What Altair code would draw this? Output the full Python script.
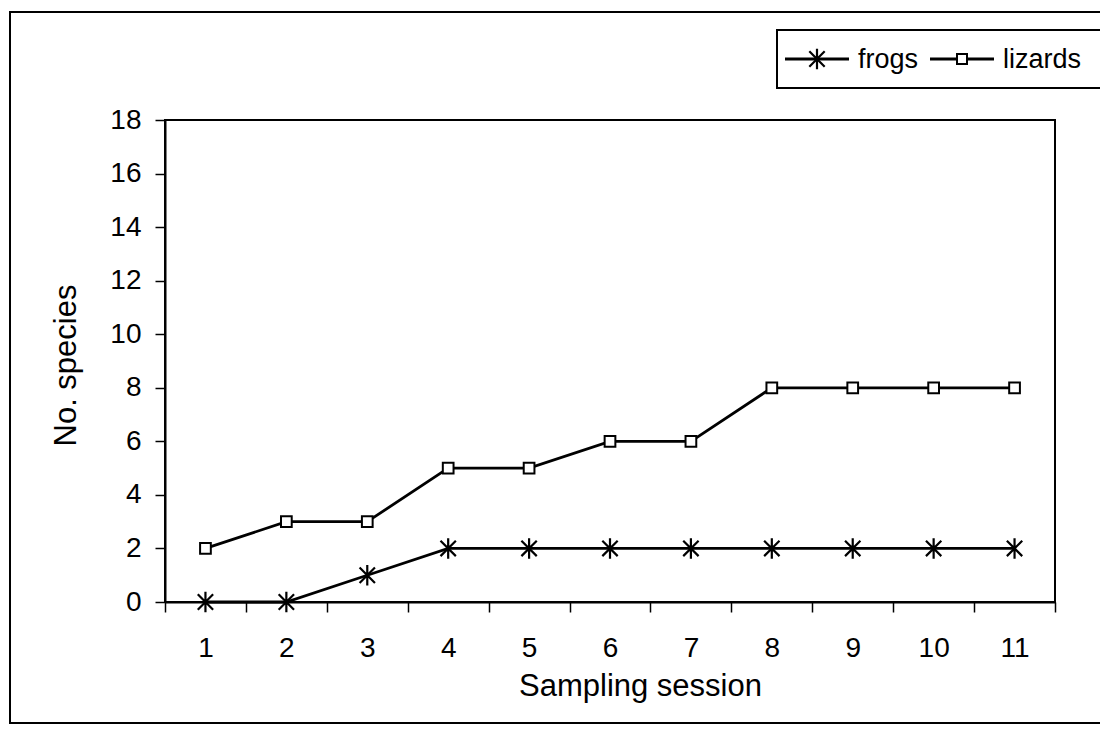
import altair as alt
import pandas as pd

sessions = [1, 2, 3, 4, 5, 6, 7, 8, 9, 10, 11]
frogs = [0, 0, 1, 2, 2, 2, 2, 2, 2, 2, 2]
lizards = [2, 3, 3, 5, 5, 6, 6, 8, 8, 8, 8]
series_names = ["frogs", "lizards"]
y_ticks = [0, 2, 4, 6, 8, 10, 12, 14, 16, 18]

FONT = "Liberation Sans"
W, H = 890, 482

df = pd.DataFrame({
    "session": sessions * 2,
    "species": frogs + lizards,
    "series": [series_names[0]] * len(sessions) + [series_names[1]] * len(sessions),
})

STAR = "M0,-1L0,1M-0.75,-0.75L0.75,0.75M-0.75,0.75L0.75,-0.75"

x_enc = alt.X("session:O", scale=alt.Scale(type="band", paddingInner=0, paddingOuter=0),
              axis=alt.Axis(title="Sampling session", labelAngle=0, tickBand="extent",
                            labelFontSize=28, labelFont=FONT, labelColor="black",
                            labelPadding=22, tickSize=10, tickColor="black", tickWidth=1.5,
                            domainColor="black", domainWidth=2,
                            titleFont=FONT, titleFontSize=31, titleFontWeight="normal",
                            titleColor="black", titleX=475, titleY=84, titleBaseline="middle"))
y_enc = alt.Y("species:Q", scale=alt.Scale(domain=[0, 18], nice=False),
              axis=alt.Axis(title="No. species", values=y_ticks, grid=False,
                            labelFontSize=28, labelFont=FONT, labelColor="black",
                            labelPadding=14, tickSize=10, tickColor="black", tickWidth=1.5,
                            domainColor="black", domainWidth=2,
                            titleFont=FONT, titleFontSize=31, titleFontWeight="normal",
                            titleColor="black", titleX=-99, titleY=245, titleAngle=-90,
                            titleAlign="center", titleBaseline="middle"))

one = pd.DataFrame({"k": [0]})

frame = alt.Chart(one).mark_rect(fill="white", fillOpacity=0, stroke="black", strokeWidth=2).encode(
    x=alt.value(-155), x2=alt.value(936), y=alt.value(-108), y2=alt.value(603))

lines = alt.Chart(df).mark_line(color="black", strokeWidth=2.8).encode(
    x=x_enc, y=y_enc, detail="series:N")

stars = alt.Chart(df).transform_filter(alt.datum.series == series_names[0]).mark_point(
    shape=STAR, size=420, stroke="black", strokeWidth=2.2, filled=False, opacity=1).encode(
    x=x_enc, y=y_enc)

squares = alt.Chart(df).transform_filter(alt.datum.series == series_names[1]).mark_point(
    shape="square", size=115, fill="white", stroke="black", strokeWidth=2, filled=True, opacity=1).encode(
    x=x_enc, y=y_enc)

# legend box (manual)
LX0, LX1, LY0, LY1 = 612, 936, -90, -32
LYC = (LY0 + LY1) / 2
legend_layers = [alt.Chart(one).mark_rect(fill="white", stroke="black", strokeWidth=2).encode(
    x=alt.value(LX0), x2=alt.value(LX1), y=alt.value(LY0), y2=alt.value(LY1))]
entry_x = [620, 765]
label_x = [693, 838]
for i, name in enumerate(series_names):
    x0 = entry_x[i]
    legend_layers.append(alt.Chart(one).mark_rule(color="black", strokeWidth=2.8).encode(
        x=alt.value(x0), x2=alt.value(x0 + 64), y=alt.value(LYC)))
    if i == 0:
        legend_layers.append(alt.Chart(one).mark_point(
            shape=STAR, size=420, stroke="black", strokeWidth=2.2, filled=False, opacity=1).encode(
            x=alt.value(x0 + 32), y=alt.value(LYC)))
    else:
        legend_layers.append(alt.Chart(one).mark_point(
            shape="square", size=100, fill="white", stroke="black", strokeWidth=2, filled=True, opacity=1).encode(
            x=alt.value(x0 + 32), y=alt.value(LYC)))
    legend_layers.append(alt.Chart(pd.DataFrame({"t": [name]})).mark_text(
        font=FONT, fontSize=27, color="black", align="left", baseline="middle").encode(
        x=alt.value(label_x[i]), y=alt.value(LYC + 1), text="t:N"))

chart = alt.layer(frame, lines, stars, squares, *legend_layers).properties(
    width=W, height=H,
    autosize="none",
    background="white",
    padding={"left": 157, "top": 112, "right": 45, "bottom": 125},
).configure_view(stroke="black", strokeWidth=2)

chart.save("out.html", embed_options={"renderer": "svg", "actions": False})
